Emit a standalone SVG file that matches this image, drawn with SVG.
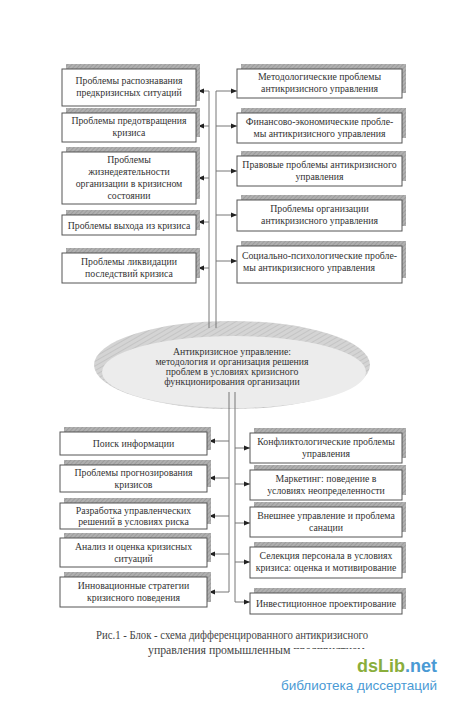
<svg xmlns="http://www.w3.org/2000/svg" width="450" height="705" viewBox="0 0 450 705">
<style>
.bx{fill:#fff;stroke:#555;stroke-width:1}
.sh{fill:url(#hatch)}
.t{font-family:"Liberation Serif","Times New Roman",serif;font-size:9.8px;fill:#333;text-anchor:middle}
.ln{stroke:#777;stroke-width:1;fill:none}
.cap{font-family:"Liberation Serif","Times New Roman",serif;font-size:11.8px;fill:#444}
</style>
<defs>
<pattern id="hatch" width="3" height="3" patternUnits="userSpaceOnUse" patternTransform="rotate(45)">
<rect width="3" height="3" fill="#b0b0b0"/>
<line x1="0" y1="0" x2="0" y2="3" stroke="#8a8a8a" stroke-width="1"/>
</pattern>
<pattern id="hatch2" width="4" height="4" patternUnits="userSpaceOnUse" patternTransform="rotate(60)">
<rect width="4" height="4" fill="#d4d4d4"/>
<line x1="0" y1="0" x2="0" y2="4" stroke="#b4b4b4" stroke-width="1"/>
</pattern>
<marker id="ar" viewBox="0 0 10 10" refX="10" refY="5" markerWidth="6" markerHeight="6" orient="auto" markerUnits="userSpaceOnUse">
<path d="M0,1 L10,5 L0,9 z" fill="#222"/>
</marker>
<clipPath id="capclip">
<rect x="0" y="0" width="292" height="705"/>
<rect x="292" y="0" width="158" height="649"/>
</clipPath>
</defs>
<rect width="450" height="705" fill="#fff"/>

<g id="center">
<ellipse cx="232" cy="365" rx="138" ry="44" fill="url(#hatch2)"/>
<ellipse cx="234" cy="372" rx="132" ry="36" fill="#ececec"/>
<text class="t" x="232" y="355">Антикризисное управление:</text>
<text class="t" x="232" y="365">методология и организация решения</text>
<text class="t" x="232" y="375">проблем в условиях кризисного</text>
<text class="t" x="232" y="385">функционирования организации</text>
</g>

<g id="connectors">
<line class="ln" x1="209" y1="91" x2="209" y2="328"/>
<line class="ln" x1="216" y1="91" x2="216" y2="328"/>
<line class="ln" x1="209" y1="91" x2="198" y2="91" marker-end="url(#ar)"/>
<line class="ln" x1="209" y1="126" x2="198" y2="126" marker-end="url(#ar)"/>
<line class="ln" x1="209" y1="178" x2="198" y2="178" marker-end="url(#ar)"/>
<line class="ln" x1="209" y1="222" x2="198" y2="222" marker-end="url(#ar)"/>
<line class="ln" x1="209" y1="268" x2="198" y2="268" marker-end="url(#ar)"/>
<line class="ln" x1="216" y1="91" x2="237" y2="91" marker-end="url(#ar)"/>
<line class="ln" x1="216" y1="126" x2="237" y2="126" marker-end="url(#ar)"/>
<line class="ln" x1="216" y1="171" x2="237" y2="171" marker-end="url(#ar)"/>
<line class="ln" x1="216" y1="215" x2="237" y2="215" marker-end="url(#ar)"/>
<line class="ln" x1="216" y1="261" x2="237" y2="261" marker-end="url(#ar)"/>
<line class="ln" x1="229" y1="392" x2="229" y2="592"/>
<line class="ln" x1="235" y1="392" x2="235" y2="602"/>
<line class="ln" x1="229" y1="441" x2="209" y2="441" marker-end="url(#ar)"/>
<line class="ln" x1="229" y1="478" x2="209" y2="478" marker-end="url(#ar)"/>
<line class="ln" x1="229" y1="516" x2="209" y2="516" marker-end="url(#ar)"/>
<line class="ln" x1="229" y1="554" x2="209" y2="554" marker-end="url(#ar)"/>
<line class="ln" x1="229" y1="592" x2="209" y2="592" marker-end="url(#ar)"/>
<line class="ln" x1="235" y1="448" x2="250" y2="448" marker-end="url(#ar)"/>
<line class="ln" x1="235" y1="484" x2="250" y2="484" marker-end="url(#ar)"/>
<line class="ln" x1="235" y1="523" x2="250" y2="523" marker-end="url(#ar)"/>
<line class="ln" x1="235" y1="562" x2="250" y2="562" marker-end="url(#ar)"/>
<line class="ln" x1="235" y1="602" x2="250" y2="602" marker-end="url(#ar)"/>
</g>

<g id="tl1"><rect class="sh" x="66" y="64" width="134" height="37"/><rect class="bx" x="62" y="69" width="134" height="37"/>
<text class="t" x="129" y="84">Проблемы распознавания</text><text class="t" x="129" y="96">предкризисных ситуаций</text></g>
<g id="tl2"><rect class="sh" x="66" y="108" width="134" height="29"/><rect class="bx" x="62" y="113" width="134" height="29"/>
<text class="t" x="129" y="124">Проблемы предотвращения</text><text class="t" x="129" y="136">кризиса</text></g>
<g id="tl3"><rect class="sh" x="66" y="147" width="134" height="52"/><rect class="bx" x="62" y="152" width="134" height="52"/>
<text class="t" x="129" y="163">Проблемы</text><text class="t" x="129" y="175">жизнедеятельности</text><text class="t" x="129" y="187">организации в кризисном</text><text class="t" x="129" y="199">состоянии</text></g>
<g id="tl4"><rect class="sh" x="66" y="210" width="134" height="20"/><rect class="bx" x="62" y="215" width="134" height="20"/>
<text class="t" x="129" y="228.5">Проблемы выхода из кризиса</text></g>
<g id="tl5"><rect class="sh" x="66" y="248" width="134" height="30"/><rect class="bx" x="62" y="253" width="134" height="30"/>
<text class="t" x="129" y="265">Проблемы ликвидации</text><text class="t" x="129" y="277">последствий кризиса</text></g>

<g id="tr1"><rect class="sh" x="241" y="64" width="165" height="29"/><rect class="bx" x="237" y="69" width="165" height="29"/>
<text class="t" x="319.5" y="80">Методологические проблемы</text><text class="t" x="319.5" y="92">антикризисного управления</text></g>
<g id="tr2"><rect class="sh" x="241" y="108" width="165" height="30"/><rect class="bx" x="237" y="113" width="165" height="30"/>
<text class="t" x="319.5" y="125">Финансово-экономические пробле-</text><text class="t" x="319.5" y="137">мы антикризисного управления</text></g>
<g id="tr3"><rect class="sh" x="241" y="151" width="165" height="30"/><rect class="bx" x="237" y="156" width="165" height="30"/>
<text class="t" x="319.5" y="168">Правовые проблемы антикризисного</text><text class="t" x="319.5" y="180">управления</text></g>
<g id="tr4"><rect class="sh" x="241" y="195" width="165" height="31"/><rect class="bx" x="237" y="200" width="165" height="31"/>
<text class="t" x="319.5" y="212">Проблемы организации</text><text class="t" x="319.5" y="224">антикризисного управления</text></g>
<g id="tr5"><rect class="sh" x="241" y="241" width="165" height="37"/><rect class="bx" x="237" y="246" width="165" height="37"/>
<text class="t" x="319.5" y="259">Социально-психологические пробле-</text><text class="t" x="243" y="271" style="text-anchor:start">мы антикризисного управления</text></g>

<g id="bl1"><rect class="sh" x="64" y="427" width="147" height="23"/><rect class="bx" x="60" y="432" width="147" height="23"/>
<text class="t" x="133.5" y="447">Поиск информации</text></g>
<g id="bl2"><rect class="sh" x="64" y="460" width="147" height="27"/><rect class="bx" x="60" y="465" width="147" height="27"/>
<text class="t" x="133.5" y="476">Проблемы прогнозирования</text><text class="t" x="133.5" y="488">кризисов</text></g>
<g id="bl3"><rect class="sh" x="64" y="498" width="147" height="26"/><rect class="bx" x="60" y="503" width="147" height="26"/>
<text class="t" x="133.5" y="514">Разработка управленческих</text><text class="t" x="133.5" y="525">решений в условиях риска</text></g>
<g id="bl4"><rect class="sh" x="64" y="533" width="147" height="29"/><rect class="bx" x="60" y="538" width="147" height="29"/>
<text class="t" x="133.5" y="550">Анализ и оценка кризисных</text><text class="t" x="133.5" y="562">ситуаций</text></g>
<g id="bl5"><rect class="sh" x="64" y="572" width="147" height="30"/><rect class="bx" x="60" y="577" width="147" height="30"/>
<text class="t" x="133.5" y="589">Инновационные стратегии</text><text class="t" x="133.5" y="601">кризисного поведения</text></g>

<g id="br1"><rect class="sh" x="254" y="428" width="152" height="30"/><rect class="bx" x="250" y="433" width="152" height="30"/>
<text class="t" x="326" y="445">Конфликтологические проблемы</text><text class="t" x="326" y="457">управления</text></g>
<g id="br2"><rect class="sh" x="254" y="465" width="152" height="30"/><rect class="bx" x="250" y="470" width="152" height="30"/>
<text class="t" x="326" y="482">Маркетинг: поведение в</text><text class="t" x="326" y="494">условиях неопределенности</text></g>
<g id="br3"><rect class="sh" x="254" y="502" width="152" height="30"/><rect class="bx" x="250" y="507" width="152" height="30"/>
<text class="t" x="326" y="519">Внешнее управление и проблема</text><text class="t" x="326" y="531">санации</text></g>
<g id="br4"><rect class="sh" x="254" y="542" width="152" height="31"/><rect class="bx" x="250" y="547" width="152" height="31"/>
<text class="t" x="326" y="559">Селекция персонала в условиях</text><text class="t" x="326" y="571">кризиса: оценка и мотивирование</text></g>
<g id="br5"><rect class="sh" x="254" y="588" width="152" height="21"/><rect class="bx" x="250" y="593" width="152" height="21"/>
<text class="t" x="326" y="607">Инвестиционное проектирование</text></g>

<g id="caption">
<text class="cap" x="96" y="639" textLength="272" lengthAdjust="spacingAndGlyphs">Рис.1 - Блок - схема дифференцированного антикризисного</text>
<text class="cap" x="148" y="654" clip-path="url(#capclip)">управления промышленным предприятием</text>
</g>
<g id="watermark">
<text x="437" y="672" text-anchor="end" style="font-family:'Liberation Sans',Arial,sans-serif;font-size:18px;font-weight:bold"><tspan fill="#8aae3c">dsLib</tspan><tspan fill="#4a9ad4">.net</tspan></text>
<text x="437" y="690" text-anchor="end" style="font-family:'Liberation Sans',Arial,sans-serif;font-size:13.5px;fill:#4a9ad4">библиотека диссертаций</text>
</g>
</svg>
